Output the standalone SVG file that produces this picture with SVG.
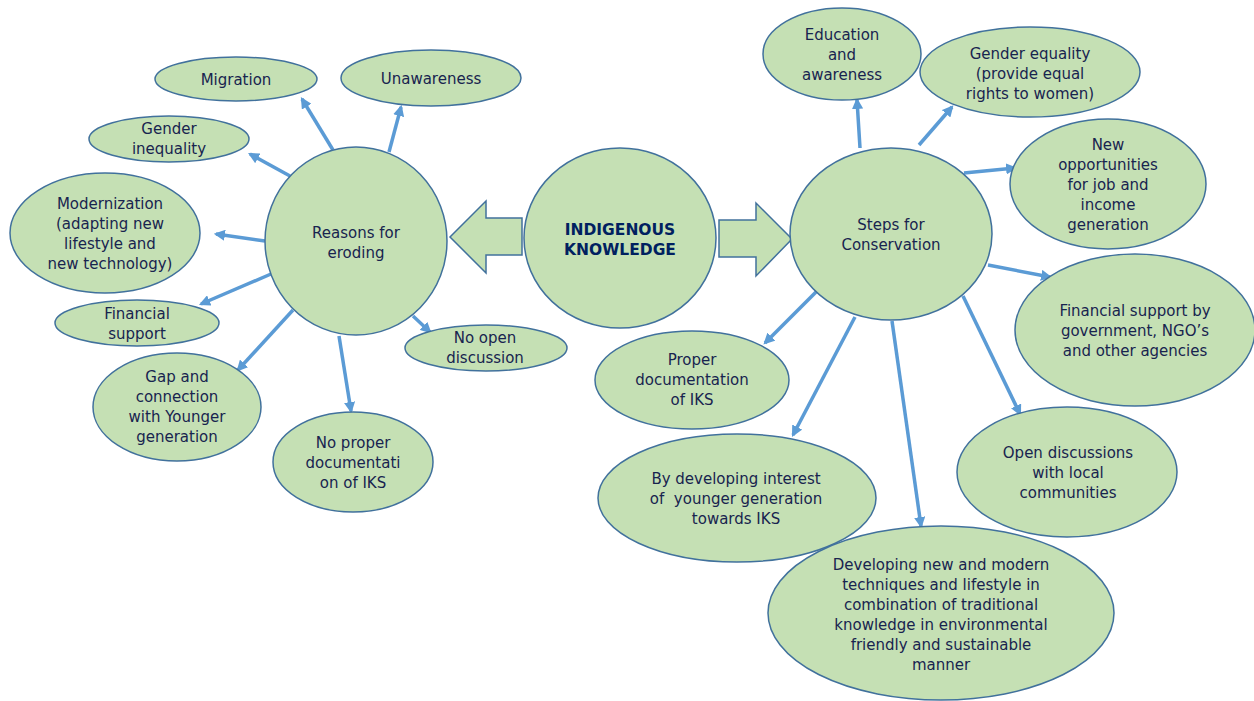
<svg xmlns="http://www.w3.org/2000/svg" width="1254" height="701" viewBox="0 0 1254 701">
<style>
.n{fill:#c5e0b4;stroke:#41719c;stroke-width:1.5}
.t{font-family:"DejaVu Sans","Liberation Sans",sans-serif;font-size:15px;fill:#18244f;text-anchor:middle}
.b{font-family:"DejaVu Sans","Liberation Sans",sans-serif;font-size:15.5px;font-weight:bold;fill:#002060;text-anchor:middle}
.c line{stroke:#5b9bd5;stroke-width:3.5;marker-end:url(#ah)}
</style>
<defs>
<marker id="ah" viewBox="0 0 10 10" refX="8" refY="5" markerWidth="3.2" markerHeight="3.2" orient="auto" markerUnits="strokeWidth">
<path d="M0,0 L10,5 L0,10 z" fill="#5b9bd5"/>
</marker>
</defs>
<rect width="1254" height="701" fill="#ffffff"/>
<g class="c" id="connectors">
<line x1="333" y1="150" x2="302" y2="99"/>
<line x1="389" y1="152" x2="401" y2="107"/>
<line x1="290" y1="176" x2="250" y2="154"/>
<line x1="265" y1="241" x2="216" y2="234"/>
<line x1="271" y1="274" x2="201" y2="304"/>
<line x1="293" y1="310" x2="238" y2="370"/>
<line x1="339" y1="336" x2="351" y2="411"/>
<line x1="413" y1="316" x2="430" y2="332"/>
<line x1="860" y1="148" x2="857" y2="100"/>
<line x1="919" y1="145" x2="952" y2="107"/>
<line x1="964" y1="173" x2="1015" y2="168"/>
<line x1="988" y1="265" x2="1050" y2="277"/>
<line x1="817" y1="291" x2="765" y2="343"/>
<line x1="855" y1="317" x2="793" y2="435"/>
<line x1="892" y1="321" x2="921" y2="526"/>
<line x1="963" y1="296" x2="1020" y2="414"/>
</g>
<g id="arrow-left"><polygon class="n" points="522,218 486,218 486,201 450,237 486,273 486,255 522,255"/></g>
<g id="arrow-right"><polygon class="n" points="719,220 756,220 756,203 792,239 756,276 756,257 719,257"/></g>
<g id="indigenous"><ellipse class="n" cx="620" cy="238" rx="96" ry="90"/>
<text class="b" x="620" y="235">INDIGENOUS</text><text class="b" x="620" y="255">KNOWLEDGE</text></g>
<g id="reasons"><ellipse class="n" cx="356" cy="241" rx="91" ry="94"/>
<text class="t" x="356" y="238">Reasons for</text><text class="t" x="356" y="258">eroding</text></g>
<g id="migration"><ellipse class="n" cx="236" cy="79" rx="81" ry="22"/>
<text class="t" x="236" y="85">Migration</text></g>
<g id="unawareness"><ellipse class="n" cx="431" cy="78" rx="90" ry="28"/>
<text class="t" x="431" y="84">Unawareness</text></g>
<g id="gender-inequality"><ellipse class="n" cx="169" cy="139" rx="80" ry="23"/>
<text class="t" x="169" y="134">Gender</text><text class="t" x="169" y="154">inequality</text></g>
<g id="modernization"><ellipse class="n" cx="105" cy="233" rx="95" ry="60"/>
<text class="t" x="110" y="209">Modernization</text><text class="t" x="110" y="229">(adapting new</text><text class="t" x="110" y="249">lifestyle and</text><text class="t" x="110" y="269">new technology)</text></g>
<g id="financial-support"><ellipse class="n" cx="137" cy="323" rx="82" ry="23"/>
<text class="t" x="137" y="319">Financial</text><text class="t" x="137" y="339">support</text></g>
<g id="gap"><ellipse class="n" cx="177" cy="407" rx="84" ry="54"/>
<text class="t" x="177" y="382">Gap and</text><text class="t" x="177" y="402">connection</text><text class="t" x="177" y="422">with Younger</text><text class="t" x="177" y="442">generation</text></g>
<g id="no-proper-doc"><ellipse class="n" cx="353" cy="462" rx="80" ry="50"/>
<text class="t" x="353" y="448">No proper</text><text class="t" x="353" y="468">documentati</text><text class="t" x="353" y="488">on of IKS</text></g>
<g id="no-open-discussion"><ellipse class="n" cx="486" cy="348" rx="81" ry="23"/>
<text class="t" x="485" y="343">No open</text><text class="t" x="485" y="363">discussion</text></g>
<g id="steps"><ellipse class="n" cx="891" cy="234" rx="101" ry="86"/>
<text class="t" x="891" y="230">Steps for</text><text class="t" x="891" y="250">Conservation</text></g>
<g id="education"><ellipse class="n" cx="842" cy="54" rx="79" ry="46"/>
<text class="t" x="842" y="40">Education</text><text class="t" x="842" y="60">and</text><text class="t" x="842" y="80">awareness</text></g>
<g id="gender-equality"><ellipse class="n" cx="1030" cy="72" rx="110" ry="45"/>
<text class="t" x="1030" y="59">Gender equality</text><text class="t" x="1030" y="79">(provide equal</text><text class="t" x="1030" y="99">rights to women)</text></g>
<g id="new-opportunities"><ellipse class="n" cx="1108" cy="184" rx="98" ry="65"/>
<text class="t" x="1108" y="150">New</text><text class="t" x="1108" y="170">opportunities</text><text class="t" x="1108" y="190">for job and</text><text class="t" x="1108" y="210">income</text><text class="t" x="1108" y="230">generation</text></g>
<g id="financial-gov"><ellipse class="n" cx="1135" cy="330" rx="120" ry="76"/>
<text class="t" x="1135" y="316">Financial support by</text><text class="t" x="1135" y="336">government, NGO’s</text><text class="t" x="1135" y="356">and other agencies</text></g>
<g id="proper-doc"><ellipse class="n" cx="692" cy="380" rx="97" ry="49"/>
<text class="t" x="692" y="365">Proper</text><text class="t" x="692" y="385">documentation</text><text class="t" x="692" y="405">of IKS</text></g>
<g id="open-discussions"><ellipse class="n" cx="1067" cy="472" rx="110" ry="65"/>
<text class="t" x="1068" y="458">Open discussions</text><text class="t" x="1068" y="478">with local</text><text class="t" x="1068" y="498">communities</text></g>
<g id="by-developing"><ellipse class="n" cx="737" cy="498" rx="139" ry="64"/>
<text class="t" x="736" y="484">By developing interest</text><text class="t" x="736" y="504" xml:space="preserve">of  younger generation</text><text class="t" x="736" y="524">towards IKS</text></g>
<g id="developing-new"><ellipse class="n" cx="941" cy="613" rx="173" ry="87"/>
<text class="t" x="941" y="570">Developing new and modern</text><text class="t" x="941" y="590">techniques and lifestyle in</text><text class="t" x="941" y="610">combination of traditional</text><text class="t" x="941" y="630">knowledge in environmental</text><text class="t" x="941" y="650">friendly and sustainable</text><text class="t" x="941" y="670">manner</text></g>
</svg>
